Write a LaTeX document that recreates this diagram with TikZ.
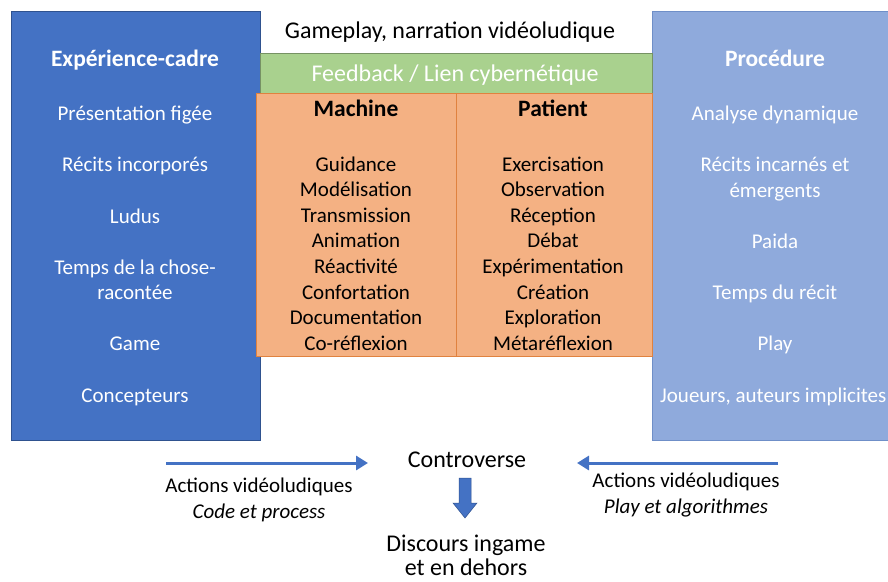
\documentclass[tikz,border=0pt]{standalone}
\usepackage{fontspec}
\setmainfont{Carlito}
\usetikzlibrary{arrows.meta}
\definecolor{darkblue}{HTML}{4472C4}
\definecolor{darkblueline}{HTML}{2F528F}
\definecolor{lightblue}{HTML}{8FAADC}
\definecolor{lightblueline}{HTML}{6F8FC8}
\definecolor{greenfill}{HTML}{A9D18E}
\definecolor{orangefill}{HTML}{F4B183}
\definecolor{orangeline}{HTML}{E0823F}
\tikzset{
  txt/.style={font=\fontsize{21}{25}\selectfont, inner sep=0pt, anchor=base, align=center},
  big/.style={font=\fontsize{24}{28}\selectfont},
  bigbold/.style={font=\fontsize{23.5}{28}\selectfont\bfseries},
  wtxt/.style={txt, text=white},
  btxt/.style={txt, text=black},
  arr/.style={draw=darkblue, line width=3pt, -{Triangle[length=12pt,width=14pt]}},
  blockarrow/.style={fill=darkblue, draw=darkblueline, line width=0.5pt},
}
\begin{document}
\begin{tikzpicture}[x=1pt,y=-1pt]
\useasboundingbox (0,0) rectangle (888,581);
\begin{scope}
\clip (0,0) rectangle (888,581);
% boxes
\path[fill=darkblue, draw=darkblueline, line width=0.8pt] (11,11) rectangle (260,440);
\path[fill=lightblue, draw=lightblueline, line width=0.8pt] (652,11) rectangle (900,440);
\path[fill=greenfill, draw=greenfill!70!black, line width=0.6pt] (260,53) rectangle (652,93);
\path[fill=orangefill, draw=orangeline, line width=0.8pt] (256,93) rectangle (652,356);
\draw[orangeline, line width=0.8pt] (456,93) -- (456,356);

% top texts
\node[btxt, big] (title) at (450,38) {Gameplay, narration vidéoludique};
\node[wtxt, big] (feedback) at (455,81) {Feedback / Lien cybernétique};

% left box
\node[wtxt, bigbold] (exp) at (135,66) {Expérience-cadre};
\node[wtxt] (l1) at (135,120) {Présentation figée};
\node[wtxt] (l2) at (135,171) {Récits incorporés};
\node[wtxt] (l3) at (135,223) {Ludus};
\node[wtxt] (l4a) at (135,274) {Temps de la chose-};
\node[wtxt] (l4b) at (135,299) {racontée};
\node[wtxt] (l5) at (135,350) {Game};
\node[wtxt] (l6) at (135,402) {Concepteurs};

% right box
\node[wtxt, bigbold] (proc) at (775,66) {Procédure};
\node[wtxt] (r1) at (775,120) {Analyse dynamique};
\node[wtxt] (r2a) at (775,171) {Récits incarnés et};
\node[wtxt] (r2b) at (775,197) {émergents};
\node[wtxt] (r3) at (775,248) {Paida};
\node[wtxt] (r4) at (775,299) {Temps du récit};
\node[wtxt] (r5) at (775,350) {Play};
\node[wtxt, anchor=base west] (r6) at (660,402) {Joueurs, auteurs implicites};

% columns
\node[btxt, bigbold] (mach) at (356,116) {Machine};
\node[btxt, bigbold] (pat) at (553,116) {Patient};
\foreach \a/\b [count=\i from 0] in {Guidance/Exercisation, Modélisation/Observation, Transmission/Réception, Animation/Débat, Réactivité/Expérimentation, Confortation/Création, Documentation/Exploration, Co-réflexion/Métaréflexion}{
  \node[btxt] (m\i) at (356,{171+\i*25.6}) {\a};
  \node[btxt] (p\i) at (553,{171+\i*25.6}) {\b};
}
\end{scope}

% bottom
\node[btxt, big] (contro) at (467,467) {Controverse};
\node[btxt, big] (disc1) at (466,551) {Discours ingame};
\node[btxt, big] (disc2) at (466,575) {et en dehors};
\node[btxt] (al1) at (259,492) {Actions vidéoludiques};
\node[btxt, font=\fontsize{21}{25}\selectfont\itshape] (al2) at (259,518) {Code et process};
\node[btxt] (ar1) at (686,487) {Actions vidéoludiques};
\node[btxt, font=\fontsize{21}{25}\selectfont\itshape] (ar2) at (686,513) {Play et algorithmes};

\coordinate (la) at (166,463);
\coordinate (lb) at (368,463);
\coordinate (ra) at (778,463);
\coordinate (rb) at (577,463);
\draw[arr] (la) -- (lb);
\draw[arr] (ra) -- (rb);
% block arrow down
\coordinate (dtop) at (465,478);
\path[blockarrow] (dtop) ++(-6,0) -- ++(12,0) -- ++(0,25) -- ++(6,0) -- ++(-12,15) -- ++(-12,-15) -- ++(6,0) -- cycle;
\end{tikzpicture}
\end{document}
